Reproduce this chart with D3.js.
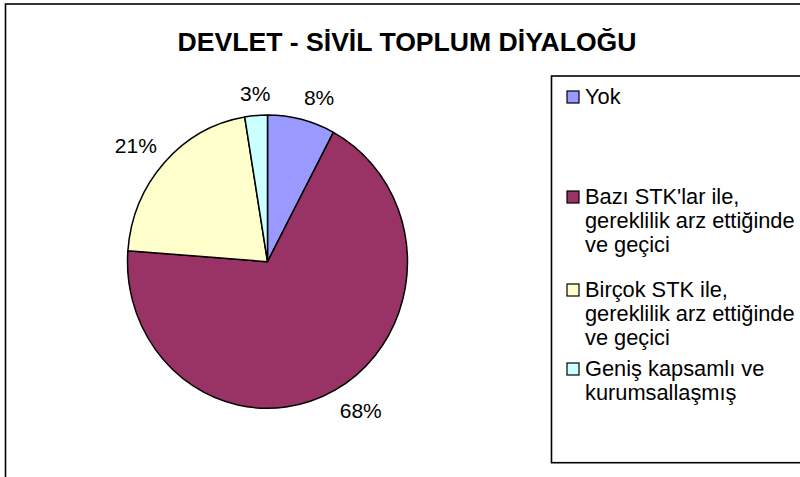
<!DOCTYPE html>
<html>
<head>
<meta charset="utf-8">
<script src="https://cdn.jsdelivr.net/npm/d3@7"></script>
<style>
  html, body { margin: 0; padding: 0; background: #fff; }
  svg { display: block; font-family: "Liberation Sans", Arial, sans-serif; }
</style>
</head>
<body>
<svg id="chart" width="800" height="477"></svg>
<script>
// ---- data ----
const title = "DEVLET - SİVİL TOPLUM DİYALOĞU";
const categories = ["Yok", "Bazı STK'lar ile, gereklilik arz ettiğinde ve geçici", "Birçok STK ile, gereklilik arz ettiğinde ve geçici", "Geniş kapsamlı ve kurumsallaşmış"];
const legendLines = [["Yok"], ["Bazı STK'lar ile,", "gereklilik arz ettiğinde", "ve geçici"], ["Birçok STK ile,", "gereklilik arz ettiğinde", "ve geçici"], ["Geniş kapsamlı ve", "kurumsallaşmış"]];
const values = [7.8, 68.4, 21.2, 2.6];
const colors = ["#9999FF", "#993366", "#FFFFCC", "#CCFFFF"];

// ---- layout ----
const W = 800, H = 477;
const cx = 267.5, cy = 261.7, rx = 140, ry = 146.6;
const labelRx = 150, labelRy = 162, labelHalfH = 7;
const legendBaselines = [104, 204, 297, 376];
const lineH = 24.2;

const svg = d3.select("#chart");

// outer frame
svg.append("rect").attr("x", 5.5).attr("y", 4).attr("width", W + 20).attr("height", H + 20)
  .attr("fill", "#fff").attr("stroke", "#000").attr("stroke-width", 1.6);

// title
svg.append("text").attr("x", 407).attr("y", 51).attr("text-anchor", "middle")
  .attr("font-size", 26.6).attr("font-weight", "bold").attr("fill", "#000").text(title);

// pie
const pie = d3.pie().sort(null).value(d => d)
  .startAngle(0).endAngle(2 * Math.PI);
const arcs = pie(values);
const arc = d3.arc().innerRadius(0).outerRadius(rx);
const total = d3.sum(values);
const fmt = d => Math.round(d / total * 100) + "%";

const g = svg.append("g").attr("transform", `translate(${cx},${cy}) scale(1,${ry / rx})`);
g.selectAll("path").data(arcs).join("path")
  .attr("d", arc)
  .attr("fill", (d, i) => colors[i])
  .attr("stroke", "#000")
  .attr("stroke-width", 1.5)
  .attr("vector-effect", "non-scaling-stroke")
  .attr("stroke-linejoin", "round");

// labels
const mid = d => (d.startAngle + d.endAngle) / 2;
svg.selectAll("text.lbl").data(arcs).join("text")
  .attr("class", "lbl")
  .attr("x", d => cx + labelRx * Math.sin(mid(d)))
  .attr("y", d => cy - labelRy * Math.cos(mid(d)) - labelHalfH * Math.sign(Math.cos(mid(d))))
  .attr("dy", "0.35em")
  .attr("text-anchor", d => {
    const s = Math.sin(mid(d));
    return s > 0.15 ? "start" : (s < -0.15 ? "end" : "middle");
  })
  .attr("font-size", 21)
  .attr("fill", "#000")
  .text(d => fmt(d.value));

// legend box
svg.append("rect").attr("x", 551.5).attr("y", 76).attr("width", 300).attr("height", 386.7)
  .attr("fill", "#fff").attr("stroke", "#000").attr("stroke-width", 1.6);

const lg = svg.selectAll("g.leg").data(categories).join("g").attr("class", "leg");
lg.append("rect")
  .attr("x", 567).attr("y", (d, i) => legendBaselines[i] - 13)
  .attr("width", 12).attr("height", 12)
  .attr("fill", (d, i) => colors[i]).attr("stroke", "#000").attr("stroke-width", 1.2);
lg.each(function(d, i) {
  const t = d3.select(this).append("text").attr("font-size", 21.8).attr("fill", "#000");
  legendLines[i].forEach((line, j) => {
    t.append("tspan").attr("x", 585).attr("y", legendBaselines[i] + j * lineH).text(line);
  });
});
</script>
</body>
</html>
